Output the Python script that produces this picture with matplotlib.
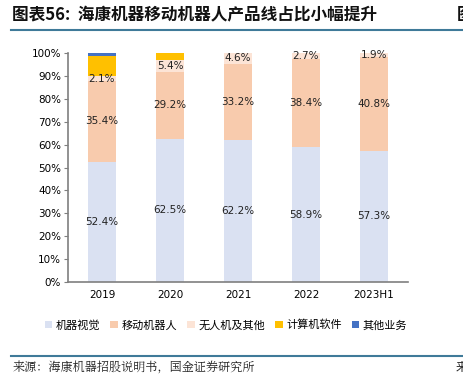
import matplotlib
matplotlib.use("Agg")
import matplotlib.pyplot as plt
import numpy as np
from matplotlib.lines import Line2D

plt.rcParams['font.family'] = ['Noto Sans CJK SC', 'DejaVu Sans']

categories = ["2019", "2020", "2021", "2022", "2023H1"]
series_names = ["机器视觉", "移动机器人", "无人机及其他", "计算机软件", "其他业务"]
vision = [52.4, 62.5, 62.2, 58.9, 57.3]
mobile = [35.4, 29.2, 33.2, 38.4, 40.8]
drone = [2.1, 5.4, 4.6, 2.7, 1.9]
software = [8.6, 2.9, 0.0, 0.0, 0.0]
other = [1.5, 0.0, 0.0, 0.0, 0.0]
labeled = [True, True, True, False, False]
colors = ["#dae1f2", "#f8cbad", "#fce4d6", "#ffc000", "#4472c4"]
yticks = [0, 10, 20, 30, 40, 50, 60, 70, 80, 90, 100]

fig = plt.figure(figsize=(4.64, 3.75), dpi=100)
ax = fig.add_axes([68/464, 1-282/375, 340/464, 229/375])

x = np.arange(len(categories))
bottom = np.zeros(len(categories))
data = [vision, mobile, drone, software, other]
handles = []
for i, (vals, name, c) in enumerate(zip(data, series_names, colors)):
    vals = np.array(vals)
    bars = ax.bar(x, vals, 0.41, bottom=bottom, color=c, label=name, zorder=2)
    if labeled[i]:
        for xi, v, b in zip(x, vals, bottom):
            ax.text(xi, b + v/2, f"{v:.1f}%", ha='center', va='center',
                    fontsize=7.5, color='#222222', family=['DejaVu Sans'], zorder=3)
    bottom += vals
    handles.append(bars)

ax.set_xlim(-0.5, len(categories)-0.5)
ax.set_ylim(0, 100)
ax.set_yticks(yticks)
ax.set_yticklabels([f"{t}%" for t in yticks], fontsize=7.5, family=['DejaVu Sans'])
ax.set_xticks(x)
ax.set_xticklabels(categories, fontsize=7.5, family=['DejaVu Sans'])
for s in ['top', 'right']:
    ax.spines[s].set_visible(False)
for s in ['left', 'bottom']:
    ax.spines[s].set_color('#7f7f7f')
    ax.spines[s].set_linewidth(1.2)
ax.tick_params(axis='y', length=3, color='#7f7f7f', pad=2)
ax.tick_params(axis='x', length=0, pad=6)

fig.legend(handles=handles, labels=series_names, loc='center',
           bbox_to_anchor=(226/464, 1-325/375), ncol=5, frameon=False,
           fontsize=8, handlelength=0.7, handleheight=0.7, handletextpad=0.3,
           columnspacing=0.9)

# title and decorations
fig.text(12/464, 1-15/375, "图表56:  海康机器移动机器人产品线占比小幅提升", fontsize=12,
         fontweight='bold', style='italic', color='#111111', ha='left', va='center')
fig.text(457/464, 1-15/375, "图", fontsize=12, fontweight='bold', color='#111111',
         ha='left', va='center')
fig.add_artist(Line2D([11/464, 1], [1-30/375, 1-30/375], color='#3f7a99', lw=1.5))
fig.add_artist(Line2D([11/464, 1], [1-356/375, 1-356/375], color='#3f7a99', lw=1.5))
fig.text(13/464, 1-368/375, "来源：海康机器招股说明书，国金证券研究所", fontsize=8.7,
         color='#222222', ha='left', va='center', family=['Noto Serif CJK SC', 'Noto Sans CJK SC', 'DejaVu Sans'])
fig.text(456/464, 1-368/375, "来", fontsize=8.7, color='#222222', ha='left', va='center')

fig.savefig("out.png", dpi=100)
